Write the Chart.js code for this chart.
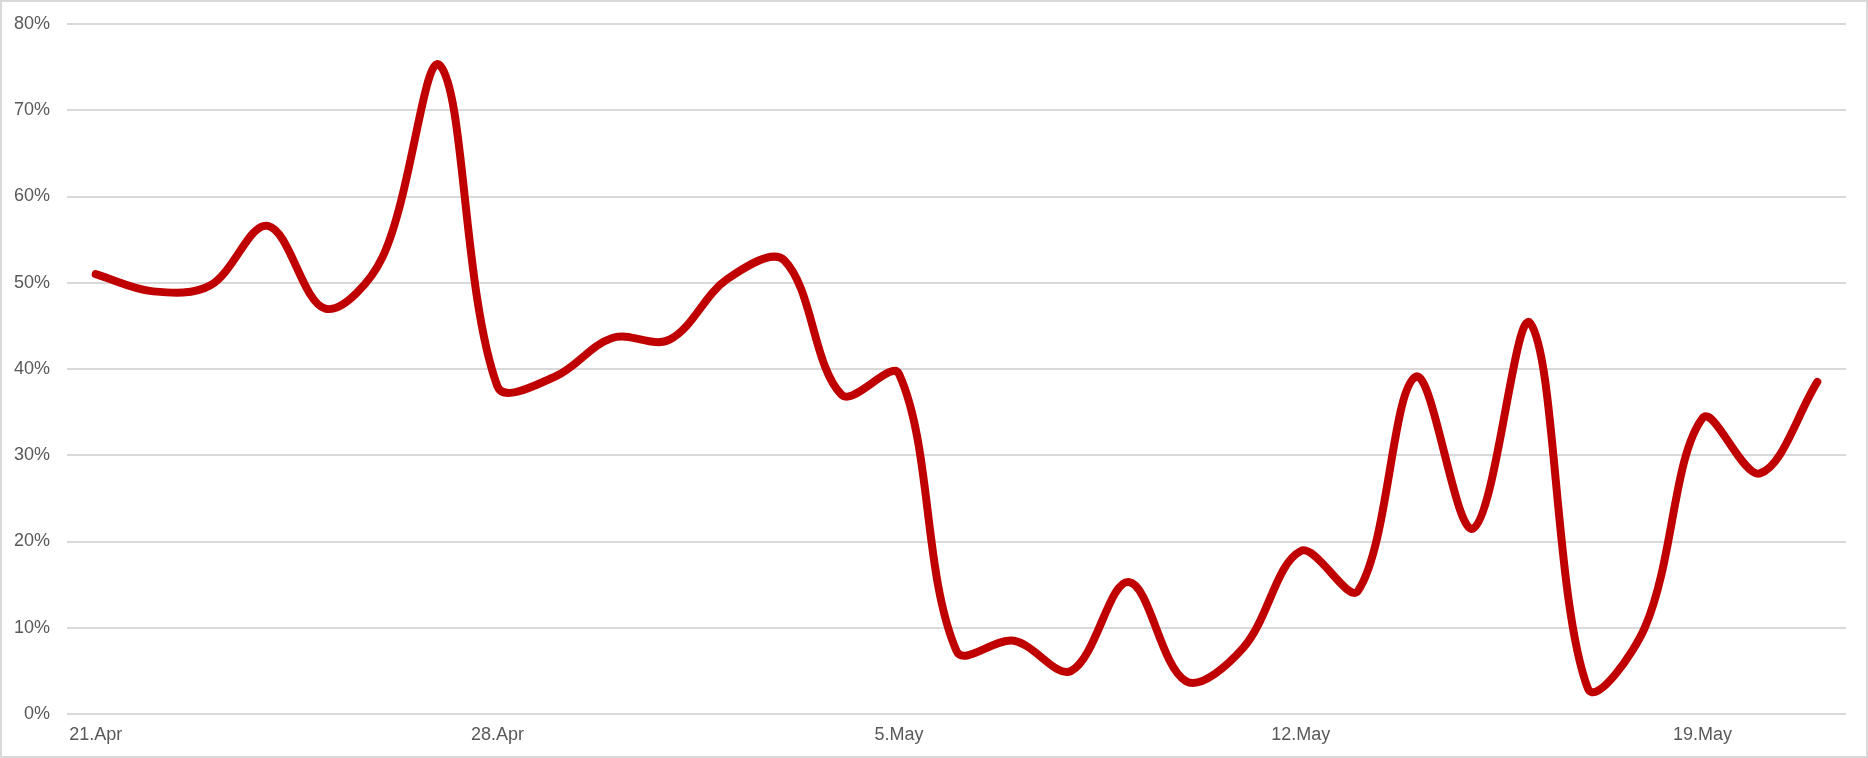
<!DOCTYPE html>
<html>
<head>
<meta charset="utf-8">
<script src="https://cdn.jsdelivr.net/npm/chart.js@4/dist/chart.umd.min.js"></script>
<style>
  html, body { margin: 0; padding: 0; background: #fff; }
  #wrap { width: 1868px; height: 758px; box-sizing: border-box; border: 2px solid #d9d9d9; }
  canvas { display: block; }
</style>
</head>
<body>
<div id="wrap"><canvas id="rateChart" width="1864" height="754"></canvas></div>
<script>
// daily categories, 21 Apr - 21 May
const days = ['21.Apr', '22.Apr', '23.Apr', '24.Apr', '25.Apr', '26.Apr', '27.Apr',
    '28.Apr', '29.Apr', '30.Apr', '1.May', '2.May', '3.May', '4.May',
    '5.May', '6.May', '7.May', '8.May', '9.May', '10.May', '11.May',
    '12.May', '13.May', '14.May', '15.May', '16.May', '17.May', '18.May',
    '19.May', '20.May', '21.May'];

// values in percent
const rate = [51.0, 49.0, 49.7, 56.6, 47.0, 53.0, 75.2,
    38.0, 39.1, 43.6, 43.4, 50.4, 52.6, 37.0,
    39.4, 7.3, 8.5, 5.0, 15.3, 3.8, 7.7,
    18.9, 14.3, 39.1, 21.5, 45.3, 3.0, 10.1,
    34.3, 27.9, 38.5];

const yTicks = [0, 10, 20, 30, 40, 50, 60, 70, 80];
const labelEvery = 7;

const tickFont = { family: 'Liberation Sans, Arial, sans-serif', size: 18 };

const ctx = document.getElementById('rateChart').getContext('2d');
const rateChart = new Chart(ctx, {
    type: 'line',
    data: {
        labels: days,
        datasets: [{
            data: rate,
            borderColor: '#c00000',
            borderWidth: 8,
            borderCapStyle: 'round',
            borderJoinStyle: 'round',
            pointRadius: 0,
            tension: 0.35,
            fill: false
        }]
    },
    options: {
        responsive: false,
        animation: false,
        layout: { padding: { left: 0, right: 20, top: 22, bottom: 0 } },
        plugins: { legend: { display: false }, tooltip: { enabled: false } },
        scales: {
            x: {
                offset: true,
                grid: { display: false, drawTicks: false },
                border: { display: false },
                afterFit: function(axis) { axis.height = 42; },
                ticks: {
                    autoSkip: false,
                    maxRotation: 0,
                    padding: 10,
                    color: '#595959',
                    font: tickFont,
                    callback: function(v, i) { return i % labelEvery === 0 ? days[i] : ''; }
                }
            },
            y: {
                min: yTicks[0],
                max: yTicks[yTicks.length - 1],
                grid: { color: '#d9d9d9', lineWidth: 2, drawTicks: false },
                border: { display: false },
                afterBuildTicks: function(axis) { axis.ticks = yTicks.map(v => ({ value: v })); },
                afterFit: function(axis) {
                    axis.width = 65;
                    axis.paddingTop = 0;
                    axis.paddingBottom = 0;
                },
                ticks: {
                    padding: 17,
                    color: '#595959',
                    font: tickFont,
                    callback: function(v) { return v + '%'; }
                }
            }
        }
    }
});
</script>
</body>
</html>
